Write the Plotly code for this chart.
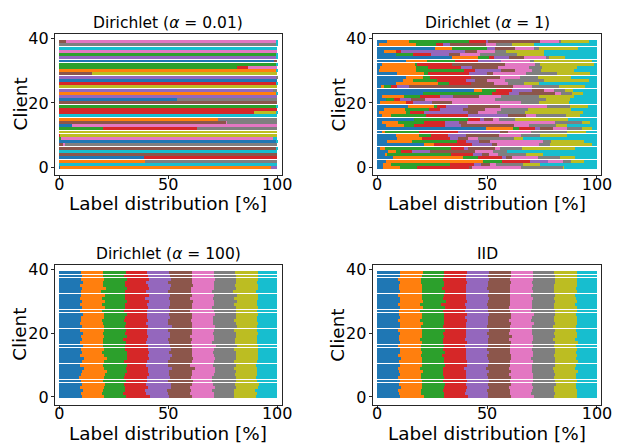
import plotly.graph_objects as go

# ---------------- data ----------------
CLASS_COLORS = ["#1f77b4", "#ff7f0e", "#2ca02c", "#d62728", "#9467bd",
                "#8c564b", "#e377c2", "#7f7f7f", "#bcbd22", "#17becf"]
CLIENTS = list(range(40))
X_TICKS = [0, 50, 100]
Y_TICKS = [0, 20, 40]
TITLES = ["Dirichlet (<i>α</i> = 0.01)", "Dirichlet (<i>α</i> = 1)",
          "Dirichlet (<i>α</i> = 100)", "IID"]
X_LABEL = "Label distribution [%]"
Y_LABEL = "Client"

# per-client share of each of the 10 labels (client 0 first)
dirichlet_001 = [
    [0.5, 96.5, 0, 0, 3, 0, 0, 0, 0, 0],
    [0, 0, 0, 0, 0, 0, 0, 0, 0, 100],
    [0, 39.5, 0, 0, 0, 0, 0, 60.5, 0, 0],
    [39, 0, 0, 61, 0, 0, 0, 0, 0, 0],
    [0, 0, 0, 0, 0, 100, 0, 0, 0, 0],
    [0, 0, 0, 0, 0, 0, 0, 0, 0, 100],
    [0, 0, 0, 0, 0, 100, 0, 0, 0, 0.4],
    [0, 0, 0, 0, 0, 2, 0.5, 97.5, 0, 0],
    [100, 0, 0, 0, 0, 0, 0, 0, 0, 0.4],
    [0, 0, 1, 0, 0, 0, 97, 0, 0, 2],
    [0, 0, 0, 0.5, 0, 0, 0, 0, 99.5, 0],
    [0, 0, 0, 0, 0, 0, 0, 0, 100, 0],
    [0, 0, 20, 43, 0, 0, 0, 37, 0, 0],
    [6, 0, 0, 0, 0, 0, 94, 0, 0, 0],
    [0, 0, 0, 0, 0, 76.5, 0.5, 23, 0, 0],
    [0, 73, 0, 0, 0, 0, 0, 27, 0, 0],
    [0, 0, 0, 0, 0, 0, 0, 0, 0, 100],
    [0, 0, 0, 89.5, 0, 0, 0, 0, 10.5, 0.4],
    [0, 0, 0, 100, 0, 0, 0, 0, 0, 0],
    [0, 0, 100, 0, 0, 0, 0, 0, 0, 0.4],
    [0, 0, 0, 0, 0, 100, 0, 0, 0, 0],
    [54, 0, 0, 0, 0, 0, 0, 46, 0, 0],
    [0, 0, 0, 0, 100, 0, 0, 0, 0, 0],
    [0, 100, 0, 0, 0, 0, 0, 0, 0, 0.4],
    [0, 0, 0, 0, 98, 0, 0, 2, 0, 0],
    [0, 0, 0, 0, 0, 0, 0, 0, 100, 0],
    [0, 0, 0, 100, 0, 0, 0, 0, 0, 0.4],
    [100, 0, 0, 0, 0, 0, 0, 0, 0, 0],
    [0, 0, 0, 0, 99.5, 0, 0, 0.5, 0, 0],
    [0, 0, 0, 0, 0, 15, 0, 0, 85, 0],
    [0, 100, 0, 0, 0, 0, 0, 0, 0, 0.4],
    [0, 0, 81.5, 5, 0, 0, 13.5, 0, 0, 0],
    [0, 0, 100, 0, 0, 0, 0, 0, 0, 0.4],
    [98.5, 0, 0, 0, 0, 1.5, 0, 0, 0, 0],
    [0, 0, 0, 0, 100, 0, 0, 0, 0, 0.4],
    [0, 0, 100, 0, 0, 0, 0, 0, 0, 0.4],
    [0, 0, 0, 0, 0, 0, 100, 0, 0, 0],
    [0, 0, 0, 0, 0, 0, 0, 0, 0, 100],
    [0, 0, 0, 0, 0, 0, 0, 100, 0, 0.4],
    [0, 0, 0, 0, 0, 3, 97, 0, 0, 0.4],
]

dirichlet_1 = [
    [2.7, 7.8, 7.5, 24, 0, 1, 22.6, 18.9, 0.5, 15],
    [2.7, 3.5, 27, 11, 3, 4, 3, 12, 8, 25.8],
    [4.2, 44, 8.5, 12.7, 8.2, 0, 7, 3.5, 6, 5.9],
    [7.2, 32, 6.5, 11, 2, 2.5, 12, 10, 7, 9.8],
    [3.4, 1, 29, 10, 4.5, 3, 4, 13, 7.5, 24.6],
    [4.9, 3.7, 2.2, 4.9, 8.5, 20.1, 8.2, 6.7, 0, 40.8],
    [1.5, 2, 30, 6, 2, 12, 2.5, 10, 24, 10],
    [21.3, 4.7, 0, 17, 9.3, 2.4, 19, 5, 19, 2.3],
    [4.5, 11.2, 20.6, 4, 6, 5, 24, 4, 14.9, 5.8],
    [9, 11.6, 0, 12.7, 3.4, 4.8, 4.5, 16.4, 4.1, 33.5],
    [8.7, 10.4, 5.2, 8, 8, 15, 10, 9, 12, 13.7],
    [2.4, 1, 15.4, 17.9, 19, 3.7, 10.5, 16.4, 8.6, 5.1],
    [49.7, 11.9, 2.7, 7.3, 2.3, 6.1, 6.3, 6.7, 4.9, 2.1],
    [4, 8.2, 4.5, 14, 7.5, 24, 7, 12, 5, 13.8],
    [2.4, 7, 11.9, 9.7, 6.3, 3.4, 40.3, 12, 3.7, 3.3],
    [16.9, 0, 24.6, 5.2, 2.1, 3.7, 2.7, 7.5, 23.9, 13.4],
    [2, 4.5, 15.5, 19.4, 18, 8.2, 4.5, 14, 6, 7.9],
    [1, 12, 2, 6.3, 20, 4.5, 8.5, 13, 26.5, 6.2],
    [3, 9.5, 11, 5, 10.7, 9.7, 7.5, 12, 20, 11.6],
    [14, 11.8, 1.5, 4, 10.2, 14.2, 21.6, 10.5, 8.2, 4],
    [1.3, 12, 0, 3, 8.7, 9, 31.4, 8, 14, 12.6],
    [3.9, 0, 3.7, 3, 5, 6, 32, 23, 11, 12.4],
    [2.4, 10, 7, 9, 6, 12, 10, 17, 16, 10.6],
    [21, 0, 31.3, 7.5, 4.5, 16.4, 3, 5, 5, 6.3],
    [44.2, 3.3, 6.4, 7.5, 9, 5.5, 4.5, 4.9, 3.7, 11],
    [1.6, 1.5, 3, 3, 5.2, 47.3, 9, 12, 12, 5.4],
    [8.7, 19, 5.2, 9.7, 0, 10.4, 6.7, 7, 7, 26.3],
    [11.6, 4.9, 10.9, 13, 4, 5.7, 8.2, 17.5, 20.4, 3.8],
    [13, 8, 3, 18.6, 0, 13.4, 9, 8, 15, 12],
    [9, 12.3, 2, 18.6, 8.2, 2.5, 15, 14.3, 14.9, 3.2],
    [1, 16.5, 22, 5, 12, 6, 8, 4, 15, 10.5],
    [1.5, 16, 5.5, 15, 5, 12, 14, 6, 16, 9],
    [2.4, 14.9, 0.7, 16, 0, 24, 13.8, 2.5, 24.4, 1.3],
    [13.1, 9.7, 12.7, 10.5, 10.4, 0, 13.2, 1.7, 26.6, 2.1],
    [34, 11.7, 5.3, 2, 7, 7, 9.6, 1.4, 7.4, 14.6],
    [8.7, 0, 7.4, 8.2, 8.2, 5.3, 8.9, 16.7, 12.4, 24.2],
    [3.1, 5.6, 0, 2.2, 29.1, 5.2, 8.5, 5, 17.1, 24.2],
    [26.3, 7.9, 15.9, 0, 3.3, 9.1, 8.8, 2.4, 17.5, 8.8],
    [0.6, 17, 9, 3.4, 3.3, 16.4, 4.5, 7.1, 10, 28.7],
    [4.5, 9.8, 27.6, 7.8, 0.7, 23.9, 8.5, 0.9, 12.6, 3.7],
]

dirichlet_100 = [
    [10.5, 10.2, 9.8, 10.9, 9.1, 10.3, 10.4, 8.9, 10.2, 9.7],
    [10.0, 9.6, 9.5, 10.8, 10.2, 9.9, 10.9, 9.4, 10.3, 9.4],
    [10.8, 9.3, 10.1, 9.2, 9.9, 11.1, 9.6, 10.4, 9.2, 10.4],
    [9.4, 10.9, 9.8, 10.7, 10.3, 9.1, 11.2, 9.7, 10.0, 8.9],
    [10.2, 10.6, 8.9, 10.3, 11.4, 9.5, 9.8, 10.1, 10.7, 8.5],
    [9.9, 10.1, 10.7, 9.4, 9.8, 11.3, 9.1, 11.0, 9.6, 9.1],
    [9.2, 11.3, 9.6, 10.4, 10.6, 10.0, 9.7, 10.9, 9.3, 10.0],
    [10.1, 10.8, 9.2, 11.1, 9.3, 10.6, 10.0, 9.5, 10.2, 9.2],
    [10.4, 11.7, 9.0, 9.5, 9.9, 10.2, 10.8, 9.6, 9.7, 9.2],
    [11.2, 9.1, 10.5, 10.1, 10.8, 10.4, 9.3, 8.8, 10.6, 9.2],
    [9.7, 10.4, 10.9, 9.0, 10.1, 9.8, 10.7, 10.3, 9.4, 9.7],
    [10.6, 9.8, 9.4, 10.6, 9.6, 10.9, 9.9, 9.2, 10.8, 9.2],
    [11.5, 10.3, 9.1, 10.2, 9.5, 10.7, 10.1, 9.9, 9.8, 8.9],
    [9.6, 11.0, 10.3, 9.7, 10.9, 9.2, 10.5, 10.0, 9.9, 8.9],
    [10.3, 9.5, 11.2, 10.0, 9.4, 10.5, 9.6, 10.7, 10.1, 8.7],
    [9.8, 10.7, 9.7, 10.5, 10.7, 9.6, 10.2, 9.1, 10.9, 8.8],
    [10.9, 9.2, 10.0, 10.8, 9.8, 10.1, 11.0, 9.8, 9.5, 8.9],
    [9.5, 10.5, 10.6, 9.3, 10.4, 10.3, 9.4, 10.6, 10.3, 9.1],
    [10.2, 9.9, 9.3, 11.0, 9.7, 10.8, 10.3, 9.3, 10.0, 9.5],
    [9.9, 10.8, 10.4, 9.6, 10.0, 9.4, 10.9, 10.2, 9.6, 9.2],
    [10.7, 9.4, 9.9, 10.4, 10.3, 10.0, 9.7, 10.5, 10.2, 8.9],
    [9.3, 11.1, 10.2, 9.8, 9.6, 10.7, 10.1, 9.4, 10.5, 9.3],
    [10.5, 10.0, 9.5, 10.6, 10.9, 9.3, 10.6, 10.0, 9.3, 9.3],
    [9.6, 10.3, 10.8, 9.2, 10.2, 10.9, 9.5, 10.8, 9.9, 8.8],
    [10.1, 9.7, 10.1, 10.9, 9.2, 10.4, 10.3, 9.6, 10.4, 9.3],
    [9.8, 10.9, 9.6, 10.0, 10.7, 9.8, 9.9, 10.2, 9.7, 9.4],
    [10.9, 9.6, 10.4, 9.5, 10.0, 10.6, 10.5, 9.7, 10.1, 8.7],
    [9.4, 10.2, 9.9, 10.7, 10.4, 9.5, 10.8, 10.1, 9.8, 9.2],
    [10.3, 10.8, 9.2, 10.3, 9.9, 10.2, 9.6, 10.9, 10.2, 8.6],
    [9.7, 9.9, 10.6, 9.9, 10.6, 10.0, 10.2, 9.3, 10.6, 9.2],
    [10.6, 10.4, 10.0, 10.1, 9.5, 10.7, 9.8, 10.4, 9.4, 9.1],
    [9.5, 10.1, 10.5, 9.4, 10.8, 9.7, 10.6, 9.8, 10.7, 8.9],
    [10.1, 10.7, 9.3, 11.0, 9.7, 10.3, 10.0, 10.6, 9.5, 8.8],
    [9.8, 9.4, 10.8, 9.7, 10.1, 10.8, 9.7, 9.5, 10.3, 9.9],
    [10.4, 11.0, 9.7, 10.2, 9.4, 9.9, 10.4, 10.3, 9.9, 8.8],
    [9.6, 10.3, 10.2, 10.6, 10.5, 10.1, 9.5, 10.0, 10.4, 8.8],
    [10.7, 9.5, 9.9, 9.6, 10.2, 10.9, 10.2, 9.9, 9.6, 9.5],
    [9.9, 10.6, 10.4, 10.4, 9.8, 9.6, 10.9, 9.4, 10.1, 8.9],
    [10.2, 9.8, 9.6, 10.9, 10.3, 10.2, 9.8, 10.5, 9.8, 8.9],
    [10.0, 10.1, 10.3, 9.8, 10.1, 10.4, 10.2, 9.7, 10.5, 8.9],
]

iid = [
    [10.6, 10.5, 9.5, 10.7, 9.3, 10.4, 10.2, 9.2, 10.7, 8.9],
    [10.1, 9.7, 10.8, 9.5, 10.5, 10.0, 9.6, 10.6, 9.9, 9.3],
    [9.6, 10.4, 10.1, 10.2, 9.5, 10.8, 9.8, 10.1, 10.5, 9.0],
    [10.9, 9.5, 9.8, 10.5, 10.1, 9.4, 10.6, 9.6, 10.2, 9.4],
    [9.7, 10.9, 10.4, 9.6, 9.9, 10.4, 9.5, 10.8, 9.4, 9.4],
    [10.5, 10.0, 9.4, 10.8, 10.3, 9.6, 10.3, 9.8, 10.4, 8.9],
    [9.5, 10.5, 10.6, 9.8, 10.0, 10.5, 10.0, 9.4, 10.3, 9.4],
    [10.3, 9.6, 10.0, 10.4, 9.6, 10.1, 10.8, 10.3, 9.5, 9.4],
    [10.0, 10.7, 9.4, 10.2, 10.8, 9.8, 9.7, 10.0, 10.6, 8.8],
    [9.4, 10.2, 10.4, 9.5, 10.1, 10.6, 10.3, 9.5, 10.1, 9.9],
    [10.5, 9.8, 10.7, 10.0, 9.4, 10.2, 9.8, 10.5, 9.6, 9.5],
    [9.8, 10.8, 9.6, 10.6, 10.3, 9.5, 10.5, 9.8, 10.4, 8.7],
    [10.8, 9.6, 10.2, 9.8, 10.0, 10.4, 9.4, 10.6, 9.8, 9.4],
    [9.6, 10.3, 9.8, 10.5, 9.8, 10.7, 10.2, 9.4, 10.5, 9.2],
    [10.2, 10.0, 10.5, 9.5, 10.6, 9.6, 10.4, 10.2, 9.4, 9.6],
    [10.6, 9.5, 10.0, 10.4, 9.5, 10.5, 9.8, 10.4, 10.2, 9.1],
    [9.5, 10.6, 10.3, 9.6, 10.5, 9.8, 10.6, 9.6, 10.0, 9.5],
    [10.4, 10.2, 9.5, 10.7, 9.7, 10.4, 9.5, 10.5, 10.4, 8.7],
    [10.0, 9.4, 10.6, 10.0, 10.2, 9.8, 10.7, 9.5, 9.7, 10.1],
    [9.8, 10.5, 10.2, 9.8, 10.4, 10.6, 9.6, 10.2, 9.8, 9.1],
    [10.5, 10.0, 9.6, 10.2, 9.8, 10.0, 10.4, 10.0, 10.5, 9.0],
    [9.6, 10.7, 10.4, 9.5, 10.6, 9.5, 10.0, 10.6, 9.5, 9.6],
    [10.2, 9.6, 10.0, 10.6, 9.5, 10.6, 9.8, 9.6, 10.4, 9.7],
    [10.6, 10.4, 9.4, 10.0, 10.2, 10.2, 10.5, 9.8, 9.8, 9.1],
    [9.5, 10.2, 10.6, 10.4, 9.6, 9.6, 10.2, 10.4, 10.2, 9.3],
    [10.4, 9.8, 10.2, 9.6, 10.5, 10.5, 9.5, 10.0, 10.4, 9.1],
    [10.0, 10.6, 9.8, 10.5, 9.8, 10.0, 10.6, 9.4, 9.6, 9.7],
    [9.8, 9.5, 10.5, 10.0, 10.4, 10.4, 9.6, 10.5, 10.0, 9.3],
    [10.5, 10.4, 10.0, 9.5, 10.0, 9.8, 10.4, 10.0, 10.5, 8.9],
    [9.6, 10.0, 9.6, 10.6, 10.2, 10.5, 10.0, 9.8, 9.8, 9.9],
    [10.2, 10.5, 10.4, 9.8, 9.5, 10.2, 9.8, 10.4, 10.2, 9.0],
    [10.6, 9.6, 9.8, 10.4, 10.5, 9.6, 10.5, 9.6, 10.0, 9.4],
    [9.5, 10.7, 10.2, 10.0, 9.8, 10.4, 9.6, 10.5, 9.5, 9.8],
    [10.4, 9.8, 10.6, 9.6, 10.4, 9.8, 10.2, 9.8, 10.4, 9.0],
    [10.0, 10.2, 9.5, 10.7, 9.6, 10.6, 9.8, 10.2, 9.8, 9.6],
    [9.8, 10.6, 10.0, 9.8, 10.2, 10.0, 10.5, 9.5, 10.5, 9.1],
    [10.5, 9.6, 10.5, 10.2, 9.8, 10.4, 9.5, 10.6, 9.6, 9.3],
    [9.6, 10.4, 9.8, 10.5, 10.6, 9.6, 10.4, 9.8, 10.2, 9.1],
    [10.2, 10.0, 10.4, 9.6, 10.0, 10.5, 10.0, 10.4, 9.8, 9.1],
    [10.4, 10.5, 9.6, 10.4, 9.8, 10.0, 10.2, 9.6, 10.4, 9.1],
]

PANELS = [dirichlet_001, dirichlet_1, dirichlet_100, iid]

# ---------------- layout geometry (pixels of a 631 x 444 canvas) ----------------
W, H = 631, 444
FRAMES = [  # left, right, top, bottom
    (55, 286, 29, 173),
    (379, 612, 29, 173),
    (55, 286, 264, 406),
    (379, 612, 264, 406),
]
FONT = "DejaVu Sans"
FRAME_COLOR = "#262626"

fig = go.Figure()
layout_axes = {}
annotations = []
for p, (data, frame, title) in enumerate(zip(PANELS, FRAMES, TITLES)):
    n = p + 1
    xa = "x" if n == 1 else f"x{n}"
    ya = "y" if n == 1 else f"y{n}"
    for k in range(10):
        fig.add_trace(go.Bar(
            x=[row[k] for row in data],
            y=CLIENTS,
            orientation="h",
            marker=dict(color=CLASS_COLORS[k], line=dict(width=0)),
            xaxis=xa, yaxis=ya,
            showlegend=False,
            hoverinfo="skip",
        ))
    l, r, t, b = frame
    xd = [l / W, r / W]
    yd = [1 - b / H, 1 - t / H]
    common = dict(showline=True, mirror=True, linecolor=FRAME_COLOR, linewidth=1.3,
                  ticks="outside", ticklen=3, tickwidth=1, tickcolor=FRAME_COLOR,
                  showgrid=False, zeroline=False,
                  tickfont=dict(family=FONT, size=16, color="black"))
    layout_axes["xaxis" if n == 1 else f"xaxis{n}"] = dict(
        domain=xd, range=[-2, 102], tickvals=X_TICKS, anchor=ya,
        ticklabelstandoff=-9, **common)
    layout_axes["yaxis" if n == 1 else f"yaxis{n}"] = dict(
        domain=yd, range=[-2.4, 41.5], tickvals=Y_TICKS, anchor=xa,
        ticklabelstandoff=-1, **common)
    cx = (l + r) / 2 / W
    # title
    annotations.append(dict(text=title, x=cx, y=1 - t / H, xref="paper", yref="paper",
                            xanchor="center", yanchor="bottom", yshift=0,
                            showarrow=False, font=dict(family=FONT, size=15.5, color="black")))
    # x label
    annotations.append(dict(text=X_LABEL, x=cx, y=1 - (b + 29) / H, xref="paper", yref="paper",
                            xanchor="center", yanchor="middle",
                            showarrow=False, font=dict(family=FONT, size=18.4, color="black")))
    # y label
    annotations.append(dict(text=Y_LABEL, x=(l - 35.5) / W, y=1 - (t + b) / 2 / H,
                            xref="paper", yref="paper", textangle=-90,
                            xanchor="center", yanchor="middle",
                            showarrow=False, font=dict(family=FONT, size=18.4, color="black")))

fig.update_layout(
    width=W, height=H,
    margin=dict(l=0, r=0, t=0, b=0),
    barmode="stack", barnorm="percent", bargap=0.085,
    plot_bgcolor="white", paper_bgcolor="white",
    font=dict(family=FONT, color="black"),
    showlegend=False,
    annotations=annotations,
    **layout_axes,
)

fig.write_html("out.html", config={"displayModeBar": False})
with open("out.html", "r", encoding="utf-8") as f:
    html = f.read()
html = html.replace("<head>", "<head><style>html,body{margin:0;padding:0;overflow:hidden;}</style>", 1)
with open("out.html", "w", encoding="utf-8") as f:
    f.write(html)
